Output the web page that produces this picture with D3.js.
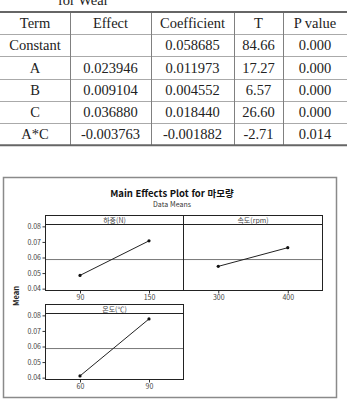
<!DOCTYPE html>
<html lang="ko">
<head>
<meta charset="UTF-8" />
<title>Main Effects Plot</title>
<script src="https://cdnjs.cloudflare.com/ajax/libs/d3/7.8.5/d3.min.js"></script>
<style>
  html, body { margin: 0; padding: 0; background: #fff; }
  svg { display: block; }
  .tbl text { font-family: "Liberation Serif", "Times New Roman", serif; font-size: 14.5px; fill: #222; }
  .chart text { font-family: "Noto Sans CJK KR", "Noto Sans", sans-serif; }
</style>
</head>
<body>
<svg id="svg"></svg>
<script>
  // table data
  const headers = ["Term", "Effect", "Coefficient", "T", "P value"];
  const terms = ["Constant", "A", "B", "C", "A*C"];
  const effects = ["", "0.023946", "0.009104", "0.036880", "-0.003763"];
  const coefs = ["0.058685", "0.011973", "0.004552", "0.018440", "-0.001882"];
  const tvals = ["84.66", "17.27", "6.57", "26.60", "-2.71"];
  const pvals = ["0.000", "0.000", "0.000", "0.000", "0.014"];

  // main effects data
  const factors = ["하중(N)", "속도(rpm)", "온도(℃)"];
  const levels = [[90, 150], [300, 400], [60, 90]];
  const means = [[0.0485, 0.0707], [0.0543, 0.0663], [0.0411, 0.0777]];
  const yTicks = [0.04, 0.05, 0.06, 0.07, 0.08];
  const grandMean = 0.058685;

  const width = 347, height = 401;
  const svg = d3.select("#svg").attr("width", width).attr("height", height);

  // ---- table ----
  const tbl = svg.append("g").attr("class", "tbl");
  tbl.append("text").attr("x", 58).attr("y", 5).text("for Wear");

  const colEdges = [0, 70, 151, 234, 283, 347];
  const rowTop = 12, rowH = 22.2;
  const rows = [headers].concat(terms.map((t, i) => [t, effects[i], coefs[i], tvals[i], pvals[i]]));
  const tableBottom = rowTop + rows.length * rowH;

  rows.forEach((r, i) => {
    r.forEach((cell, j) => {
      tbl.append("text")
        .attr("x", (colEdges[j] + colEdges[j + 1]) / 2)
        .attr("y", rowTop + i * rowH + rowH / 2 + 5)
        .attr("text-anchor", "middle")
        .text(cell);
    });
  });
  for (let i = 1; i < rows.length; i++) {
    tbl.append("line").attr("x1", 0).attr("x2", width)
      .attr("y1", Math.round(rowTop + i * rowH) + 0.5).attr("y2", Math.round(rowTop + i * rowH) + 0.5)
      .attr("stroke", "#aaa").attr("stroke-width", 1);
  }
  colEdges.slice(1, -1).forEach(x => {
    tbl.append("line").attr("x1", x + 0.5).attr("x2", x + 0.5)
      .attr("y1", rowTop).attr("y2", tableBottom)
      .attr("stroke", "#808080").attr("stroke-width", 1);
  });
  [rowTop, tableBottom].forEach(y => {
    tbl.append("line").attr("x1", 0).attr("x2", width)
      .attr("y1", y).attr("y2", y)
      .attr("stroke", "#666").attr("stroke-width", 2);
  });

  // ---- chart ----
  const chart = svg.append("g").attr("class", "chart");
  chart.append("rect").attr("x", 3.5).attr("y", 177.5).attr("width", 333).attr("height", 220)
    .attr("fill", "#fff").attr("stroke", "#8a8a8a").attr("stroke-width", 1.5);

  chart.append("text").attr("x", 172).attr("y", 197).attr("text-anchor", "middle")
    .attr("font-size", 9.5).attr("font-weight", "bold").attr("fill", "#111")
    .text("Main Effects Plot for 마모량");
  chart.append("text").attr("x", 172).attr("y", 206.5).attr("text-anchor", "middle")
    .attr("font-size", 7).attr("fill", "#333").text("Data Means");
  chart.append("text").attr("transform", "translate(19,296) rotate(-90)")
    .attr("text-anchor", "middle").attr("font-size", 7.5).attr("font-weight", "bold")
    .attr("fill", "#222").text("Mean");

  const panels = [
    { x0: 45.5, x1: 183.5, top: 215.5, leftAxis: true, pad: [60, 180] },
    { x0: 183.5, x1: 322.5, top: 215.5, leftAxis: false, pad: [250, 450] },
    { x0: 45.5, x1: 183.5, top: 304.5, leftAxis: true, pad: [45, 105] }
  ];
  const stripH = 9, plotH = 66;

  panels.forEach((p, i) => {
    const g = chart.append("g");
    const yTop = p.top + stripH, yBot = yTop + plotH;
    const x = d3.scaleLinear().domain(p.pad).range([p.x0, p.x1]);
    const y = d3.scaleLinear().domain([0.0388, 0.0812]).range([yBot, yTop]);

    // reference line at grand mean
    g.append("line").attr("x1", p.x0).attr("x2", p.x1)
      .attr("y1", y(grandMean)).attr("y2", y(grandMean))
      .attr("stroke", "#777").attr("stroke-width", 1);

    // axes
    if (p.leftAxis) {
      const ya = g.append("g").attr("transform", `translate(${p.x0},0)`)
        .call(d3.axisLeft(y).tickValues(yTicks).tickFormat(d3.format(".2f")).tickSize(3).tickPadding(1.5));
      ya.select(".domain").remove();
      ya.selectAll("text").attr("font-size", 7).attr("fill", "#444").attr("font-family", "\"Noto Sans\", sans-serif");
      ya.selectAll("line").attr("stroke", "#333");
    }
    const xa = g.append("g").attr("transform", `translate(0,${yBot})`)
      .call(d3.axisBottom(x).tickValues(levels[i]).tickSize(3).tickPadding(2));
    xa.select(".domain").remove();
    xa.selectAll("text").attr("font-size", 7).attr("fill", "#444").attr("font-family", "\"Noto Sans\", sans-serif");
    xa.selectAll("line").attr("stroke", "#333");

    // line + points
    const pts = levels[i].map((l, k) => [l, means[i][k]]);
    g.append("path").datum(pts)
      .attr("d", d3.line().x(d => x(d[0])).y(d => y(d[1])))
      .attr("fill", "none").attr("stroke", "#222").attr("stroke-width", 1);
    g.selectAll("circle").data(pts).join("circle")
      .attr("cx", d => x(d[0])).attr("cy", d => y(d[1])).attr("r", 1.6).attr("fill", "#111");

    // frame and strip
    g.append("rect").attr("x", p.x0).attr("y", p.top).attr("width", p.x1 - p.x0)
      .attr("height", stripH + plotH).attr("fill", "none").attr("stroke", "#222").attr("stroke-width", 1);
    g.append("line").attr("x1", p.x0).attr("x2", p.x1).attr("y1", yTop).attr("y2", yTop)
      .attr("stroke", "#222").attr("stroke-width", 1);
    g.append("text").attr("x", (p.x0 + p.x1) / 2).attr("y", p.top + 7)
      .attr("text-anchor", "middle").attr("font-size", 7).attr("fill", "#444")
      .text(factors[i]);
  });
</script>
</body>
</html>
